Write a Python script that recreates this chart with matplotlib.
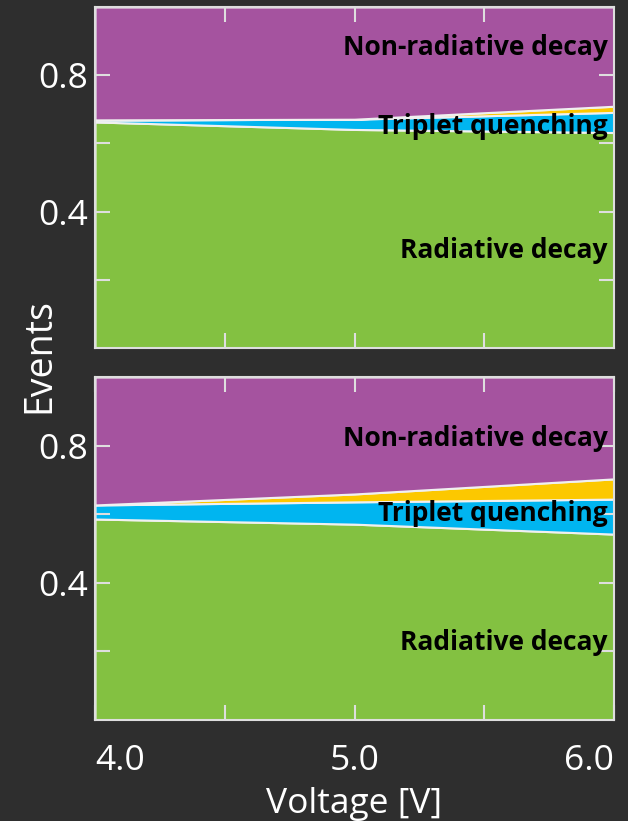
import matplotlib.pyplot as plt

# voltage points
volts = [4.0, 5.0, 6.0]

# top panel fractions
top_rad = [0.663, 0.641, 0.632]
top_trip = [0.006, 0.030, 0.059]
top_extra = [0.0, 0.0, 0.018]

# bottom panel fractions
bot_rad = [0.586, 0.571, 0.542]
bot_trip = [0.041, 0.065, 0.102]
bot_extra = [0.0, 0.023, 0.059]

labels = ['Radiative decay', 'Triplet quenching', 'Non-radiative decay']
ytick_vals = [0.2, 0.4, 0.6, 0.8]
ytick_lbls = ['', '0.4', '', '0.8']

bg = '#2e2e2e'
fg = '#dedede'
c_rad = '#83c141'
c_trip = '#00b5f0'
c_extra = '#fcc800'
c_non = '#a5539f'

plt.rcParams['font.family'] = ['Open Sans', 'DejaVu Sans']

fig = plt.figure(figsize=(6.28, 8.21), dpi=100, facecolor=bg)
ax1 = fig.add_axes([0.1513, 0.576, 0.8264, 0.4155])
ax2 = fig.add_axes([0.1513, 0.123, 0.8264, 0.4178])


def panel(ax, rad, trip, extra, text_y):
    nonrad = [1 - r - t - e for r, t, e in zip(rad, trip, extra)]
    ax.stackplot(volts, rad, trip, extra, nonrad,
                 colors=[c_rad, c_trip, c_extra, c_non],
                 edgecolor='#f0f0f0', linewidth=1.5)
    ax.set_xlim(4, 6)
    ax.set_ylim(0, 1)
    ax.set_facecolor(bg)
    for s in ax.spines.values():
        s.set_color(fg)
        s.set_linewidth(1.5)
    ax.set_yticks(ytick_vals)
    ax.set_yticklabels(ytick_lbls)
    ax.tick_params(direction='in', length=11, width=1.5, color=fg,
                   labelcolor='white', labelsize=25.5, top=True, right=True, pad=5)
    for lbl, y in zip(labels, text_y):
        ax.text(0.988, y, lbl, transform=ax.transAxes, ha='right', va='center',
                fontsize=19, fontweight='bold', color='black')


panel(ax1, top_rad, top_trip, top_extra, [0.285, 0.65, 0.88])
panel(ax2, bot_rad, bot_trip, bot_extra, [0.227, 0.603, 0.822])

ax1.set_xticks([4.5, 5.0, 5.5])
ax1.set_xticklabels([])
ax2.set_xticks([4.0, 4.5, 5.0, 5.5, 6.0])
ax2.set_xticklabels(['4.0', '', '5.0', '', '6.0'])
ax2.tick_params(axis='x', pad=17)
xl = ax2.get_xticklabels()
xl[0].set_ha('left')
xl[-1].set_ha('right')
ax2.set_xlabel('Voltage [V]', fontsize=25.5, color='white', labelpad=7)

fig.text(0.063, 0.567, 'Events', rotation=90, ha='center', va='center',
         fontsize=27, color='white')

fig.savefig('out.png', dpi=100, facecolor=bg)
